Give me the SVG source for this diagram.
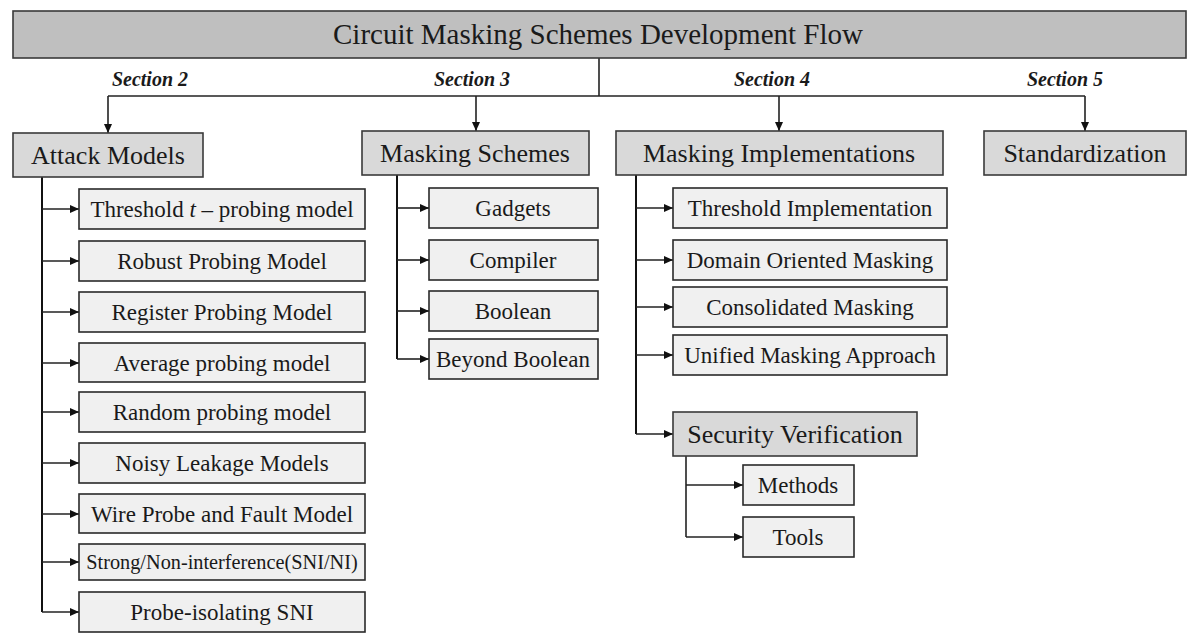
<svg xmlns="http://www.w3.org/2000/svg" width="1196" height="638" viewBox="0 0 1196 638">
<defs>
<style>
.title{fill:#bfbfbf;stroke:#3a3a3a;stroke-width:1.6}
.l1{fill:#d9d9d9;stroke:#3a3a3a;stroke-width:1.6}
.leaf{fill:#f0f0f0;stroke:#2a2a2a;stroke-width:1.6}
text{font-family:"Liberation Serif","Times New Roman",serif;fill:#1a1a1a;text-anchor:middle}
.tt{font-size:29px}
.h{font-size:26px}
.t{font-size:23px}
.s{font-size:20.3px}
.sec{font-size:20px;font-weight:bold;font-style:italic}
.c{fill:none;stroke:#222;stroke-width:1.6}
.trunk{fill:none;stroke:#111;stroke-width:2}
</style>
<marker id="ah" markerUnits="userSpaceOnUse" markerWidth="9" markerHeight="8" refX="9" refY="4" orient="auto">
<path d="M0,0 L9,4 L0,8 z" fill="#111"/>
</marker>
</defs>

<g id="connectors">
<path class="c" d="M599,58 V96"/>
<path class="c" d="M108,96 H1085"/>
<path class="c" d="M108,96 V133" marker-end="url(#ah)"/>
<path class="c" d="M476,96 V131" marker-end="url(#ah)"/>
<path class="c" d="M779,96 V131" marker-end="url(#ah)"/>
<path class="c" d="M1085,96 V131" marker-end="url(#ah)"/>
<path class="trunk" d="M42,177 V612"/>
<path class="c" d="M42,209 H79" marker-end="url(#ah)"/>
<path class="c" d="M42,261 H79" marker-end="url(#ah)"/>
<path class="c" d="M42,312 H79" marker-end="url(#ah)"/>
<path class="c" d="M42,363 H79" marker-end="url(#ah)"/>
<path class="c" d="M42,412 H79" marker-end="url(#ah)"/>
<path class="c" d="M42,463 H79" marker-end="url(#ah)"/>
<path class="c" d="M42,514 H79" marker-end="url(#ah)"/>
<path class="c" d="M42,562 H79" marker-end="url(#ah)"/>
<path class="c" d="M42,612 H79" marker-end="url(#ah)"/>
<path class="trunk" d="M397,175 V359"/>
<path class="c" d="M397,208 H429" marker-end="url(#ah)"/>
<path class="c" d="M397,260 H429" marker-end="url(#ah)"/>
<path class="c" d="M397,311 H429" marker-end="url(#ah)"/>
<path class="c" d="M397,359 H429" marker-end="url(#ah)"/>
<path class="trunk" d="M636,175 V434"/>
<path class="c" d="M636,208 H673" marker-end="url(#ah)"/>
<path class="c" d="M636,260 H673" marker-end="url(#ah)"/>
<path class="c" d="M636,307 H673" marker-end="url(#ah)"/>
<path class="c" d="M636,355 H673" marker-end="url(#ah)"/>
<path class="c" d="M636,434 H673" marker-end="url(#ah)"/>
<path class="c" d="M686,456 V537"/>
<path class="c" d="M686,485 H743" marker-end="url(#ah)"/>
<path class="c" d="M686,537 H743" marker-end="url(#ah)"/>
</g>

<g id="title"><rect class="title" x="13" y="11" width="1173" height="47"/><text class="tt" x="598" y="44">Circuit Masking Schemes Development Flow</text></g>
<g id="sec2"><text class="sec" x="150" y="86">Section 2</text></g>
<g id="sec3"><text class="sec" x="472" y="86">Section 3</text></g>
<g id="sec4"><text class="sec" x="772" y="86">Section 4</text></g>
<g id="sec5"><text class="sec" x="1065" y="86">Section 5</text></g>

<g id="attack"><rect class="l1" x="13" y="133" width="190" height="44"/><text class="h" x="108" y="164">Attack Models</text></g>
<g id="schemes"><rect class="l1" x="362" y="131" width="227" height="44"/><text class="h" x="475" y="162">Masking Schemes</text></g>
<g id="impl"><rect class="l1" x="616" y="131" width="327" height="44"/><text class="h" x="779" y="162">Masking Implementations</text></g>
<g id="std"><rect class="l1" x="984" y="131" width="202" height="44"/><text class="h" x="1085" y="162">Standardization</text></g>

<g id="a1"><rect class="leaf" x="79" y="189" width="286" height="40"/><text class="t" x="222" y="217">Threshold <tspan font-style="italic">t</tspan> – probing model</text></g>
<g id="a2"><rect class="leaf" x="79" y="241" width="286" height="40"/><text class="t" x="222" y="269">Robust Probing Model</text></g>
<g id="a3"><rect class="leaf" x="79" y="292" width="286" height="40"/><text class="t" x="222" y="320">Register Probing Model</text></g>
<g id="a4"><rect class="leaf" x="79" y="343" width="286" height="39"/><text class="t" x="222" y="371">Average probing model</text></g>
<g id="a5"><rect class="leaf" x="79" y="392" width="286" height="40"/><text class="t" x="222" y="420">Random probing model</text></g>
<g id="a6"><rect class="leaf" x="79" y="443" width="286" height="40"/><text class="t" x="222" y="471">Noisy Leakage Models</text></g>
<g id="a7"><rect class="leaf" x="79" y="494" width="286" height="39"/><text class="t" x="222" y="522">Wire Probe and Fault Model</text></g>
<g id="a8"><rect class="leaf" x="79" y="544" width="286" height="36"/><text class="s" x="222" y="569">Strong/Non-interference(SNI/NI)</text></g>
<g id="a9"><rect class="leaf" x="79" y="592" width="286" height="40"/><text class="t" x="222" y="620">Probe-isolating SNI</text></g>

<g id="s1"><rect class="leaf" x="429" y="188" width="169" height="40"/><text class="t" x="513" y="216">Gadgets</text></g>
<g id="s2"><rect class="leaf" x="429" y="240" width="169" height="40"/><text class="t" x="513" y="268">Compiler</text></g>
<g id="s3"><rect class="leaf" x="429" y="291" width="169" height="40"/><text class="t" x="513" y="319">Boolean</text></g>
<g id="s4"><rect class="leaf" x="429" y="339" width="169" height="40"/><text class="t" x="513" y="367">Beyond Boolean</text></g>

<g id="i1"><rect class="leaf" x="673" y="188" width="274" height="40"/><text class="t" x="810" y="216">Threshold Implementation</text></g>
<g id="i2"><rect class="leaf" x="673" y="240" width="274" height="40"/><text class="t" x="810" y="268">Domain Oriented Masking</text></g>
<g id="i3"><rect class="leaf" x="673" y="287" width="274" height="40"/><text class="t" x="810" y="315">Consolidated Masking</text></g>
<g id="i4"><rect class="leaf" x="673" y="335" width="274" height="40"/><text class="t" x="810" y="363">Unified Masking Approach</text></g>
<g id="secver"><rect class="l1" x="673" y="412" width="244" height="44"/><text class="h" x="795" y="443">Security Verification</text></g>
<g id="methods"><rect class="leaf" x="743" y="465" width="111" height="40"/><text class="t" x="798" y="493">Methods</text></g>
<g id="tools"><rect class="leaf" x="743" y="517" width="111" height="40"/><text class="t" x="798" y="545">Tools</text></g>
</svg>
